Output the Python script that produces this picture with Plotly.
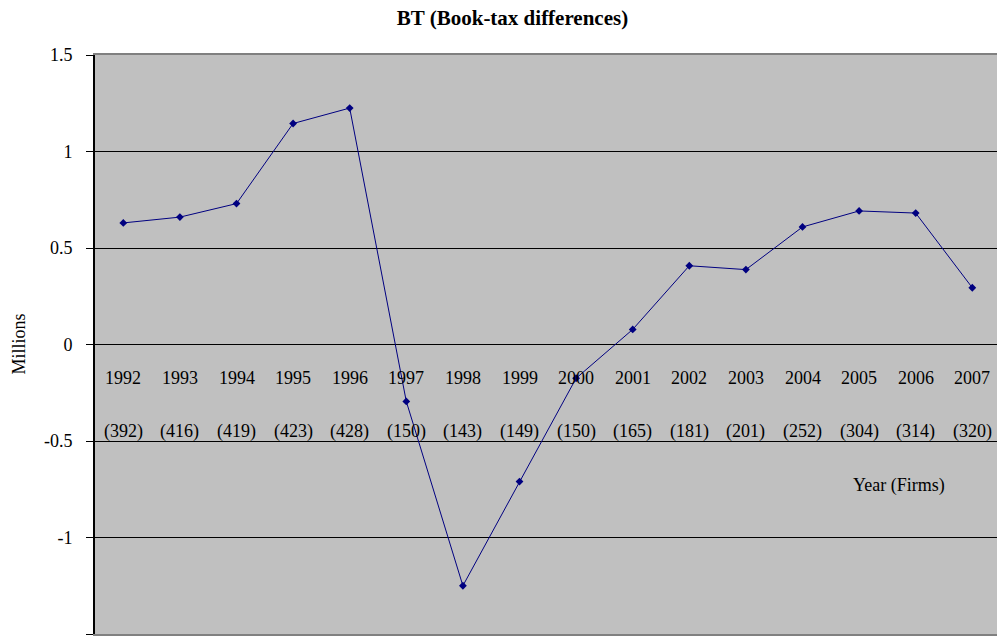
import plotly.graph_objects as go

years = ["1992", "1993", "1994", "1995", "1996", "1997", "1998", "1999",
         "2000", "2001", "2002", "2003", "2004", "2005", "2006", "2007"]
firms = [392, 416, 419, 423, 428, 150, 143, 149, 150, 165, 181, 201, 252, 304, 314, 320]
bt = [0.63, 0.66, 0.73, 1.145, 1.225, -0.295, -1.25, -0.71, -0.175, 0.078,
      0.408, 0.388, 0.609, 0.692, 0.681, 0.294]
y_ticks = [1.5, 1, 0.5, 0, -0.5, -1, -1.5]
y_tick_text = ["1.5", "1", "0.5", "0", "-0.5", "-1", "-1.5"]

FONT = "Liberation Serif"
NAVY = "#000080"

xs = list(range(len(years)))

fig = go.Figure()
fig.add_trace(go.Scatter(
    x=xs, y=bt, mode="lines+markers",
    line=dict(color=NAVY, width=1),
    marker=dict(symbol="diamond", size=6, color=NAVY),
    showlegend=False, hoverinfo="skip",
))

annotations = []
for i, (yr, fm) in enumerate(zip(years, firms)):
    annotations.append(dict(x=i, y=-0.174, xref="x", yref="y", text=yr,
                            showarrow=False, font=dict(family=FONT, size=18, color="black")))
    annotations.append(dict(x=i, y=-0.452, xref="x", yref="y", text=f"({fm})",
                            showarrow=False, font=dict(family=FONT, size=18, color="black")))
annotations.append(dict(x=13.71, y=-0.728, xref="x", yref="y", text="Year (Firms)",
                        showarrow=False, font=dict(family=FONT, size=18, color="black")))
annotations.append(dict(x=(18 - 95) / 902, y=0.0, xref="paper", yref="y",
                        text="Millions", textangle=-90, showarrow=False,
                        xanchor="center", yanchor="middle",
                        font=dict(family=FONT, size=18, color="black")))

fig.update_layout(
    width=997, height=643,
    margin=dict(l=95, r=0, t=55, b=9, pad=0),
    paper_bgcolor="white",
    plot_bgcolor="#C0C0C0",
    font=dict(family=FONT, size=18, color="black"),
    title=dict(text="BT (Book-tax differences)", x=512.5 / 997, xanchor="center",
               xref="container", y=1 - 18 / 643, yanchor="middle", yref="container",
               font=dict(family=FONT, size=21, color="black", weight="bold")),
    annotations=annotations,
    xaxis=dict(range=[-0.5, -0.5 + 902 / 56.6], showgrid=False, zeroline=False,
               showticklabels=False, ticks="", showline=True, linecolor="#808080",
               linewidth=2, mirror=True, fixedrange=True),
    yaxis=dict(range=[-1.5, 1.5], tickvals=y_ticks, ticktext=y_tick_text,
               showgrid=True, gridcolor="black", gridwidth=1,
               zeroline=True, zerolinecolor="black", zerolinewidth=1,
               showline=True, linecolor="black", linewidth=2,
               ticks="outside", ticklen=7, tickcolor="black", tickwidth=1,
               ticklabelstandoff=10,
               tickfont=dict(family=FONT, size=18, color="black"), fixedrange=True),
)

fig.write_html("out.html")
